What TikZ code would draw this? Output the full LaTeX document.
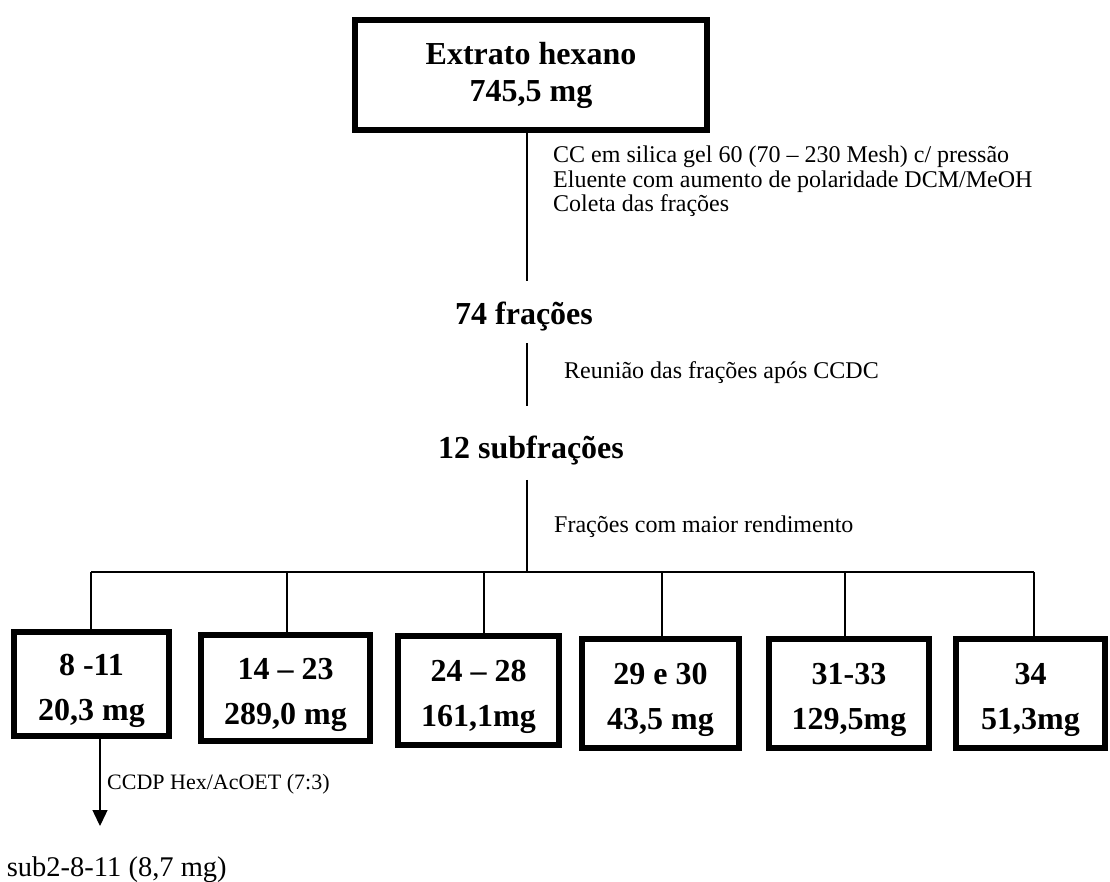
\documentclass[tikz,border=0pt]{standalone}
\usepackage{fontspec}
\setmainfont{Liberation Serif}
\usetikzlibrary{arrows.meta}
\newcommand{\boxstrut}{\rule{0pt}{35pt}}

\begin{document}
\begin{tikzpicture}[x=1pt,y=-1pt,
    frame/.style ={rectangle, draw, line width=6pt, align=center, inner sep=0pt, font=\fontsize{32}{45}\selectfont\bfseries},
    stage/.style ={inner sep=0pt, anchor=base, font=\fontsize{32}{38}\selectfont\bfseries},
    note/.style ={inner sep=0pt, anchor=base west, font=\fontsize{24}{25}\selectfont},
    link/.style ={line width=1.3pt}]
  \useasboundingbox (0,0) rectangle (1110,882);
  \coordinate (spine) at (527,572);
  \foreach \i/\x in {1/91,2/287,3/484,4/662,5/845,6/1034}
     \coordinate (d\i) at (\x,572);
  % extract and the two pooling steps
  \node[frame, minimum width=352pt, minimum height=110pt, font=\fontsize{32}{37}\selectfont\bfseries] (hex) at (531,75) {Extrato hexano\\745,5 mg};
  \node[stage] (n74) at (524,324) {74 frações};
  \node[stage] (n12) at (531,458) {12 subfrações};
  \node[note] (cc1) at (553,163) {CC em silica gel 60 (70 – 230 Mesh) c/ pressão};
  \node[note] (cc2) at (553,188) {Eluente com aumento de polaridade DCM/MeOH};
  \node[note] (cc3) at (553,212) {Coleta das frações};
  \node[note] (ccdc) at (564,378) {Reunião das frações após CCDC};
  \node[note] (best) at (554,532) {Frações com maior rendimento};
  \draw[link, shorten >=20pt] (hex.south -| spine) -- (n74.north -| spine);
  \draw[link, shorten <=12.5pt, shorten >=29pt] (n74.south -| spine) -- (n12.north -| spine);
  \draw[link, shorten <=15pt] (n12.south -| spine) -- (spine);
  % subfractions
  \node[frame, minimum width=155pt, minimum height=104pt] (b1) at (91.5,684.3) {\boxstrut 8 -11\\20,3 mg};
  \node[frame, minimum width=169pt, minimum height=106pt] (b2) at (285.5,688) {\boxstrut 14 – 23\\289,0 mg};
  \node[frame, minimum width=161pt, minimum height=109pt] (b3) at (478.5,690) {\boxstrut 24 – 28\\161,1mg};
  \node[frame, minimum width=157pt, minimum height=109pt] (b4) at (660.5,693) {\boxstrut 29 e 30\\43,5 mg};
  \node[frame, minimum width=160pt, minimum height=109pt] (b5) at (849,693) {\boxstrut 31-33\\129,5mg};
  \node[frame, minimum width=149pt, minimum height=109pt] (b6) at (1030.5,693) {\boxstrut 34\\51,3mg};
  \draw[link] (d1) -- (d6);
  \foreach \i in {1,...,6}
     \draw[link] (d\i) -- (d\i |- b\i.north);
  % preparative TLC of 8-11
  \node[note, font=\fontsize{28.5}{30}\selectfont] (sub) at (6.7,876) {sub2-8-11 (8,7 mg)};
  \node[note, font=\fontsize{22}{24}\selectfont] (ccdp) at (107,789) {CCDP Hex/AcOET (7:3)};
  \draw[link, -{Triangle[width=15pt,length=16pt]}, shorten >=30pt] ([xshift=8.5pt]b1.south) -- ([xshift=8.5pt]b1.south |- sub.north);
\end{tikzpicture}
\end{document}
